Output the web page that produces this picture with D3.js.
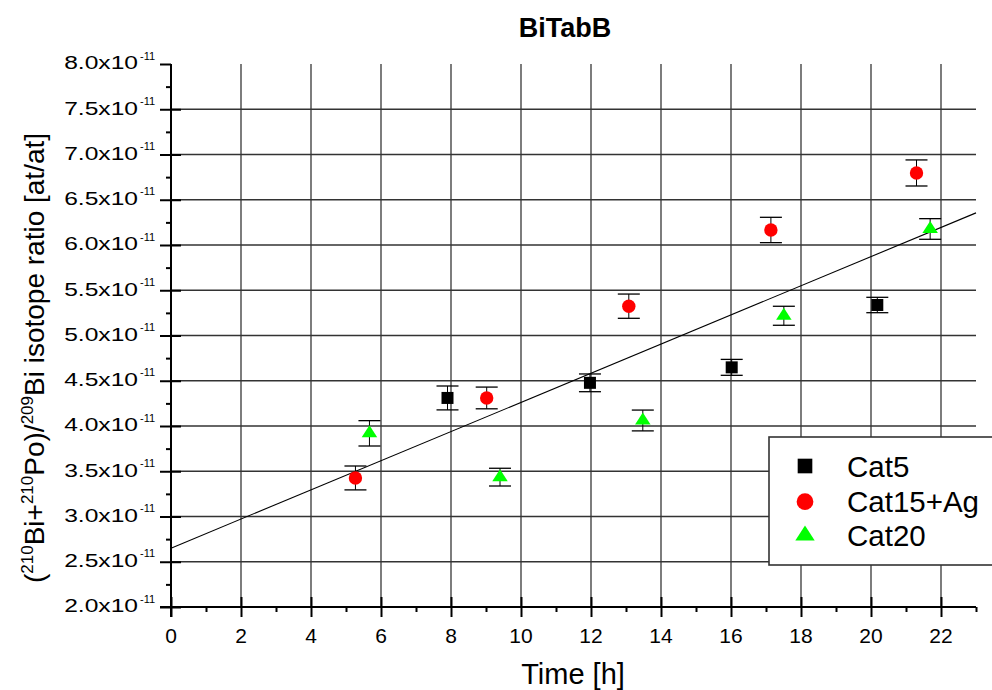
<!DOCTYPE html>
<html><head><meta charset="utf-8">
<script src="https://cdn.jsdelivr.net/npm/d3@7"></script>
<style>body{margin:0;background:#fff;} svg{display:block;font-family:"Liberation Sans",Arial,sans-serif;}</style>
</head><body>
<svg id="c" width="992" height="690"></svg>
<script>
// values of y are in units of 1e-11
const cat5X = [7.9, 11.97, 16.02, 20.18];
const cat5Y = [4.31, 4.477, 4.648, 5.337];
const cat5Err = [0.132, 0.098, 0.088, 0.085];

const cat15X = [5.27, 9.02, 13.08, 17.14, 21.3];
const cat15Y = [3.426, 4.31, 5.324, 6.166, 6.796];
const cat15Err = [0.132, 0.12, 0.134, 0.14, 0.144];

const cat20X = [5.67, 9.4, 13.48, 17.51, 21.69];
const cat20Y = [3.919, 3.435, 4.061, 5.218, 6.177];
const cat20Err = [0.14, 0.098, 0.115, 0.105, 0.114];

const fitX = [0, 23];
const fitY = [2.65, 6.355];

const xTicks = [0, 2, 4, 6, 8, 10, 12, 14, 16, 18, 20, 22];
const xMinor = [1, 3, 5, 7, 9, 11, 13, 15, 17, 19, 21, 23];
const yTicks = [2.0, 2.5, 3.0, 3.5, 4.0, 4.5, 5.0, 5.5, 6.0, 6.5, 7.0, 7.5, 8.0];
const yTickLabels = ["2.0", "2.5", "3.0", "3.5", "4.0", "4.5", "5.0", "5.5", "6.0", "6.5", "7.0", "7.5", "8.0"];
const yExp = "-11";
const yMinor = [2.25, 2.75, 3.25, 3.75, 4.25, 4.75, 5.25, 5.75, 6.25, 6.75, 7.25, 7.75];
const seriesNames = ["Cat5", "Cat15+Ag", "Cat20"];

const svg = d3.select("#c");
const x = d3.scaleLinear().domain([0, 23]).range([171, 976]);
const y = d3.scaleLinear().domain([2, 8]).range([607, 64]);

// gridlines
const g = svg.append("g");
g.selectAll(".vg").data(xTicks.filter(d => d > 0)).enter().append("line")
  .attr("x1", d => x(d)).attr("x2", d => x(d)).attr("y1", y(8)).attr("y2", y(2))
  .attr("stroke", "#111").attr("stroke-width", 1.1);
g.selectAll(".hg").data(yTicks.filter(d => d > 2 && d < 8)).enter().append("line")
  .attr("x1", x(0)).attr("x2", x(23)).attr("y1", d => y(d)).attr("y2", d => y(d))
  .attr("stroke", "#333").attr("stroke-width", 1.3);

// fit line
svg.append("path")
  .attr("d", d3.line().x(d => x(d[0])).y(d => y(d[1]))(fitX.map((v, i) => [v, fitY[i]])))
  .attr("stroke", "#000").attr("stroke-width", 1.1).attr("fill", "none");

// axes
function styleAxis(sel) {
  sel.selectAll(".domain").attr("stroke", "#000").attr("stroke-width", 2);
  sel.selectAll(".tick line").attr("stroke", "#000").attr("stroke-width", 2);
}
const xAxisY = y(2), yAxisX = x(0);
const xa = svg.append("g").attr("transform", `translate(0,${xAxisY})`)
  .call(d3.axisBottom(x).tickValues(xTicks).tickSizeInner(10).tickSizeOuter(0).tickFormat(""));
styleAxis(xa);
xa.select(".domain").attr("d", `M${yAxisX - 11},0H${x(23)}`);
const xai = svg.append("g").attr("transform", `translate(0,${xAxisY})`)
  .call(d3.axisTop(x).tickValues(xTicks).tickSizeInner(10).tickSizeOuter(0).tickFormat(""));
styleAxis(xai); xai.select(".domain").remove();
const xm = svg.append("g").attr("transform", `translate(0,${xAxisY})`)
  .call(d3.axisBottom(x).tickValues(xMinor).tickSizeInner(5).tickSizeOuter(0).tickFormat(""));
styleAxis(xm); xm.select(".domain").remove();
svg.append("g").selectAll("text").data(xTicks).enter().append("text")
  .attr("x", d => x(d)).attr("y", 643).attr("text-anchor", "middle")
  .attr("font-size", 21).attr("fill", "#000").text(d => d);

const ya = svg.append("g").attr("transform", `translate(${yAxisX},0)`)
  .call(d3.axisLeft(y).tickValues(yTicks).tickSizeInner(11).tickSizeOuter(0).tickFormat(""));
styleAxis(ya);
ya.select(".domain").attr("d", `M0,${y(8)}V${xAxisY + 10}`);
const yai = svg.append("g").attr("transform", `translate(${yAxisX},0)`)
  .call(d3.axisRight(y).tickValues(yTicks.filter(d => d < 8)).tickSizeInner(10).tickSizeOuter(0).tickFormat(""));
styleAxis(yai); yai.select(".domain").remove();
const ym = svg.append("g").attr("transform", `translate(${yAxisX},0)`)
  .call(d3.axisLeft(y).tickValues(yMinor).tickSizeInner(5).tickSizeOuter(0).tickFormat(""));
styleAxis(ym); ym.select(".domain").remove();

const yl = svg.append("g").selectAll("g").data(yTicks).enter().append("g")
  .attr("transform", d => `translate(${yAxisX},${y(d)})`);
yl.append("text").attr("text-anchor", "end")
  .attr("transform", "translate(-33,5.3) scale(1.33,1)")
  .attr("font-size", 18.5).attr("fill", "#000")
  .text((d, i) => yTickLabels[i] + "x10");
yl.append("text").attr("x", -31).attr("y", -4.5)
  .attr("font-size", 11).attr("fill", "#000").text(yExp);

function drawMarker(sel, shape, color, fx, fy, k) {
  if (shape === "square") {
    const s = 12 * k;
    sel.append("rect").attr("x", d => fx(d) - s / 2).attr("y", d => fy(d) - s / 2)
      .attr("width", s).attr("height", s).attr("fill", color);
  } else if (shape === "circle") {
    sel.append("circle").attr("cx", fx).attr("cy", fy).attr("r", 6.7 * k).attr("fill", color);
  } else {
    const w = 15.5 * k, h = 12 * k;
    sel.append("path").attr("d", d => {
      const cx = fx(d), cy = fy(d);
      return `M${cx},${cy - 2 * h / 3}L${cx + w / 2},${cy + h / 3}L${cx - w / 2},${cy + h / 3}Z`;
    }).attr("fill", color);
  }
}
function drawSeries(xs, ys, es, shape, color) {
  const data = xs.map((v, i) => ({ x: v, y: ys[i], e: es[i] }));
  const gg = svg.append("g");
  const eb = gg.selectAll(".eb").data(data).enter().append("g");
  eb.append("line").attr("x1", d => x(d.x)).attr("x2", d => x(d.x))
    .attr("y1", d => y(d.y + d.e)).attr("y2", d => y(d.y - d.e)).attr("stroke", "#000").attr("stroke-width", 1);
  eb.append("line").attr("x1", d => x(d.x) - 11).attr("x2", d => x(d.x) + 11)
    .attr("y1", d => y(d.y + d.e)).attr("y2", d => y(d.y + d.e)).attr("stroke", "#000").attr("stroke-width", 1.3);
  eb.append("line").attr("x1", d => x(d.x) - 11).attr("x2", d => x(d.x) + 11)
    .attr("y1", d => y(d.y - d.e)).attr("y2", d => y(d.y - d.e)).attr("stroke", "#000").attr("stroke-width", 1.3);
  const m = gg.selectAll(".m").data(data).enter();
  drawMarker(m, shape, color, d => x(d.x), d => y(d.y), 1);
}
drawSeries(cat5X, cat5Y, cat5Err, "square", "#000");
drawSeries(cat15X, cat15Y, cat15Err, "circle", "#ff0000");
drawSeries(cat20X, cat20Y, cat20Err, "triangle", "#00ff00");

// legend
const lg = svg.append("g");
lg.append("rect").attr("x", 769).attr("y", 437).attr("width", 240).attr("height", 128)
  .attr("fill", "#fff").attr("stroke", "#333").attr("stroke-width", 1.6);
const shapes = ["square", "circle", "triangle"];
const colors = ["#000", "#ff0000", "#00ff00"];
const legY = [466, 501.7, 535.5];
seriesNames.forEach((name, i) => {
  const sel = lg.selectAll(".dummy" + i).data([0]).enter();
  drawMarker(sel, shapes[i], colors[i], () => 805, () => legY[i], shapes[i] === "square" ? 1.22 : 1.25);
  lg.append("text").attr("x", 847).attr("y", legY[i] + 10.5).attr("font-size", 29.5).attr("fill", "#000").text(name);
});

svg.append("text").attr("x", 565).attr("y", 37).attr("text-anchor", "middle")
  .attr("font-size", 27).attr("font-weight", "bold").attr("fill", "#000").text("BiTabB");
svg.append("text").attr("x", 573).attr("y", 684).attr("text-anchor", "middle")
  .attr("font-size", 29).attr("fill", "#000").text("Time [h]");
const yt = svg.append("text").attr("transform", "translate(44,358) rotate(-90)")
  .attr("text-anchor", "middle").attr("font-size", 28).attr("fill", "#000");
const parts = [["(", 0], ["210", 1], ["Bi+", 0], ["210", 1], ["Po)/", 0], ["209", 1], ["Bi isotope ratio [at/at]", 0]];
parts.forEach((p, i) => {
  const t = yt.append("tspan").text(p[0]);
  if (p[1]) t.attr("font-size", 17).attr("dy", -11);
  else t.attr("dy", i > 0 ? 11 : 0);
});
</script>
</body></html>
